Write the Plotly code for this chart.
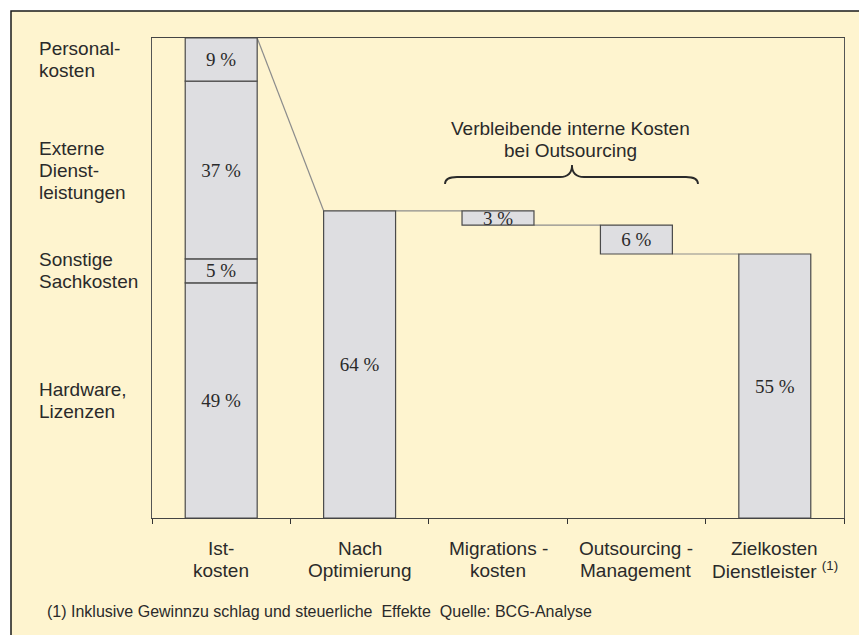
import plotly.graph_objects as go

# ---------------- data ----------------
categories = ["Ist-<br>kosten", "Nach<br>Optimierung", "Migrations -<br>kosten",
              "Outsourcing -<br>Management", "Zielkosten<br>Dienstleister <sup>(1)</sup>"]
ist_segments = ["Hardware,<br>Lizenzen", "Sonstige<br>Sachkosten",
                "Externe<br>Dienst-<br>leistungen", "Personal-<br>kosten"]
ist_values = [49, 5, 37, 9]
nach_optimierung = 64
migration = 3
outsourcing_mgmt = 6
zielkosten = 55
bracket_title = "Verbleibende interne Kosten<br>bei Outsourcing"
footnote = "(1) Inklusive Gewinnzu schlag und steuerliche\u00a0\u00a0Effekte\u00a0\u00a0Quelle: BCG-Analyse"

# ---------------- geometry helpers (layout only) ----------------
OFF = 8                      # page body margin in the browser
SW, SH = 867, 635            # screen size
W, H = SW - OFF, SH - OFF    # figure size
PL, PR, PT, PB = 152, 844, 38, 518   # plot area in screen pixels
ML, MT = PL - OFF, PT - OFF
MR, MB = W - (PR - OFF), H - (PB - OFF)
PW, PH = PR - PL, PB - PT
XR = (-0.5, 4.5)
YR = (0, 100)


def px2paper_x(px):
    return (px - PL) / PW


def px2paper_y(py):
    return (PB - py) / PH


def px2data_x(px):
    return XR[0] + (px - PL) / PW * (XR[1] - XR[0])


def px2data_y(py):
    return YR[0] + (PB - py) / PH * (YR[1] - YR[0])


SANS = "Liberation Sans, Arial, sans-serif"
SERIF = "Liberation Serif, Times New Roman, serif"
TXT = "#2a2a2a"
CREAM = "#fef4cf"
BARFILL = "#dedee1"
BAREDGE = "#4a4a4a"
CONN = "#8c8c8c"
BW = 0.52
LINE_H = 22

# ---------------- bars ----------------
ist_bases = []
acc = 0
for v in ist_values:
    ist_bases.append(acc)
    acc += v
ist_total = acc

mig_top = nach_optimierung
mig_base = mig_top - migration
out_top = mig_base
out_base = out_top - outsourcing_mgmt

bar_x = [0] * len(ist_values) + [1, 2, 3, 4]
bar_y = ist_values + [nach_optimierung, migration, outsourcing_mgmt, zielkosten]
bar_base = ist_bases + [0, mig_base, out_base, 0]
bar_text = [f"{v} %" for v in bar_y]

fig = go.Figure()
fig.add_trace(go.Bar(
    x=bar_x, y=bar_y, base=bar_base, width=BW,
    marker=dict(color=BARFILL, line=dict(color=BAREDGE, width=1.2)),
    text=bar_text, textposition="inside", insidetextanchor="middle",
    textangle=0, constraintext="none",
    textfont=dict(family=SERIF, size=19, color=TXT),
    hoverinfo="skip", cliponaxis=False,
))

shapes = []
# outer frame (decor)
shapes.append(dict(type="rect", xref="paper", yref="paper", layer="below",
                   x0=px2paper_x(11), x1=px2paper_x(SW + 20),
                   y0=px2paper_y(SH + 20), y1=px2paper_y(11),
                   fillcolor=CREAM, line=dict(color="#1a1a1a", width=1.5)))

# connectors
h = BW / 2
conn = [
    (0 + h, ist_total, 1 - h, nach_optimierung),
    (1 + h, nach_optimierung, 2 - h, mig_top),
    (2 + h, mig_base, 3 - h, out_top),
    (3 + h, out_base, 4 - h, zielkosten),
]
for x0, y0, x1, y1 in conn:
    shapes.append(dict(type="line", xref="x", yref="y", layer="below",
                       x0=x0, y0=y0, x1=x1, y1=y1,
                       line=dict(color=CONN, width=1.2)))

# brace
L, R, T = px2data_x(445), px2data_x(698), px2data_x(572)
yE, yM, yT = px2data_y(184), px2data_y(177), px2data_y(165)
dx = 12 / PW * (XR[1] - XR[0])
path = (f"M {L},{yE} Q {L},{yM} {L+dx},{yM} L {T-dx},{yM} Q {T},{yM} {T},{yT} "
        f"Q {T},{yM} {T+dx},{yM} L {R-dx},{yM} Q {R},{yM} {R},{yE}")
shapes.append(dict(type="path", xref="x", yref="y", path=path,
                   line=dict(color="#2a2a2a", width=1.8)))

annotations = []


def add_lines(text, x, y, xref, yref, xanchor, size, family=SANS):
    lines = text.split("<br>")
    n = len(lines)
    for k, ln in enumerate(lines):
        annotations.append(dict(
            text=ln, x=x, y=y, xref=xref, yref=yref, xanchor=xanchor,
            yanchor="middle", showarrow=False,
            yshift=-(k - (n - 1) / 2) * LINE_H,
            font=dict(family=family, size=size, color=TXT)))


# left segment labels, centred on segments
for name, b, v in zip(ist_segments, ist_bases, ist_values):
    add_lines(name, px2paper_x(37), b + v / 2, "paper", "y", "left", 19)

# category labels
for i, c in enumerate(categories):
    add_lines(c, i, px2paper_y(559), "x", "paper", "center", 19)

# bracket title
add_lines(bracket_title, px2data_x(570), px2data_y(139), "x", "y", "center", 19)

# footnote
annotations.append(dict(text=footnote, x=px2paper_x(45), y=px2paper_y(611),
                        xref="paper", yref="paper", xanchor="left", yanchor="middle",
                        showarrow=False, font=dict(family=SANS, size=16, color=TXT)))

fig.update_layout(
    width=W, height=H, autosize=False,
    margin=dict(l=ML, r=MR, t=MT, b=MB, pad=0),
    paper_bgcolor="white", plot_bgcolor="rgba(0,0,0,0)",
    showlegend=False, barmode="overlay",
    shapes=shapes, annotations=annotations,
    xaxis=dict(range=list(XR), tickmode="array",
               tickvals=[i - 0.5 for i in range(len(categories) + 1)],
               showticklabels=False, ticks="outside", ticklen=5, tickwidth=1.2,
               tickcolor="#333", showline=True, linecolor="#444", linewidth=1.2,
               mirror=True, showgrid=False, zeroline=False, fixedrange=True),
    yaxis=dict(range=list(YR), showticklabels=False, ticks="", showline=True,
               linecolor="#555", linewidth=1.2, mirror=True, showgrid=False,
               zeroline=False, fixedrange=True),
)

fig.write_html("out.html")
